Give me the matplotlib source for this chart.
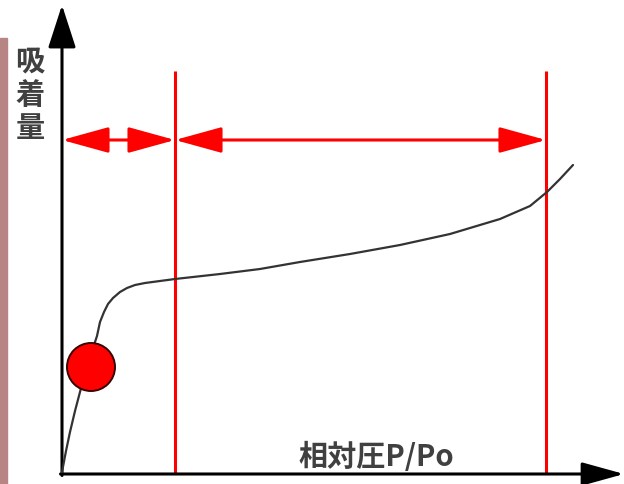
import matplotlib

matplotlib.use("Agg")

import matplotlib.pyplot as plt
from matplotlib.patches import ArrowStyle, Circle, Rectangle

plt.rcParams["font.family"] = ["Noto Sans CJK JP", "DejaVu Sans"]

# isotherm curve, x = relative pressure, y = amount adsorbed (arbitrary units)
curve_x = [0, 4, 8, 13, 18, 24, 30, 35, 38, 42, 46, 51, 58, 65, 73, 83, 98, 113,
           158, 198, 238, 288, 338, 388, 438, 468, 485, 498, 511]
curve_y = [2, 23, 42, 63, 82, 103, 123, 138, 152, 162, 170, 176, 182, 186, 189,
           191, 193, 195, 200, 205, 212, 220, 229, 240, 255, 268, 282, 295, 309]

# region boundaries and the arrows spanning them
region_edges = [0, 113, 484]
boundary_top = 403
arrow_level = 334

# monolayer point marker
marker_x = 29
marker_y = 107

y_label = ["吸", "着", "量"]
x_label = "相対圧P/Po"

RED = "#ff0000"
INK = "#333333"
TEXT = "#404040"


def draw_arrow(ax, start, end, style, color, lw):
    ax.annotate(
        "",
        xy=end,
        xytext=start,
        arrowprops=dict(arrowstyle=style, color=color, lw=lw, shrinkA=0, shrinkB=0, mutation_scale=10),
    )


fig = plt.figure(figsize=(6.24, 4.85), dpi=100)
ax = fig.add_axes([0, 0, 1, 1])
ax.set_xlim(-62, 562)
ax.set_ylim(-10, 475)
ax.axis("off")

# pink strip at the left border
fig.patches.append(Rectangle((0, 0), 0.011, 0.92, transform=fig.transFigure, color="#b88585", zorder=0))

# axes with arrow heads
draw_arrow(ax, (0, -1.5), (0, 469), ArrowStyle("-|>", head_length=2.66, head_width=0.86), "black", 2.2)
draw_arrow(ax, (-1.5, 0), (562, 0), ArrowStyle("-|>", head_length=2.6, head_width=0.72), "black", 2.2)

# region boundaries
ax.vlines(region_edges[1:], 0, boundary_top, color=RED, lw=2.2)

for left, right in zip(region_edges[:-1], region_edges[1:]):
    draw_arrow(ax, (left, arrow_level), (right, arrow_level),
               ArrowStyle("<|-|>", head_length=2.9, head_width=0.8), RED, 2.2)

ax.plot(curve_x, curve_y, color=INK, lw=1.6, solid_capstyle="round", solid_joinstyle="round", zorder=3)
ax.add_patch(Circle((marker_x, marker_y), 24, facecolor=RED, edgecolor="#3a0000", lw=1.4, zorder=4))

for i, ch in enumerate(y_label):
    ax.text(-32, 413 - 33 * i, ch, ha="center", va="center", fontsize=21, fontweight="bold", color=TEXT)

ax.text(314, 18, x_label, ha="center", va="center", fontsize=21, fontweight="bold", color=TEXT)

fig.savefig("out.png", dpi=100)
plt.close(fig)
